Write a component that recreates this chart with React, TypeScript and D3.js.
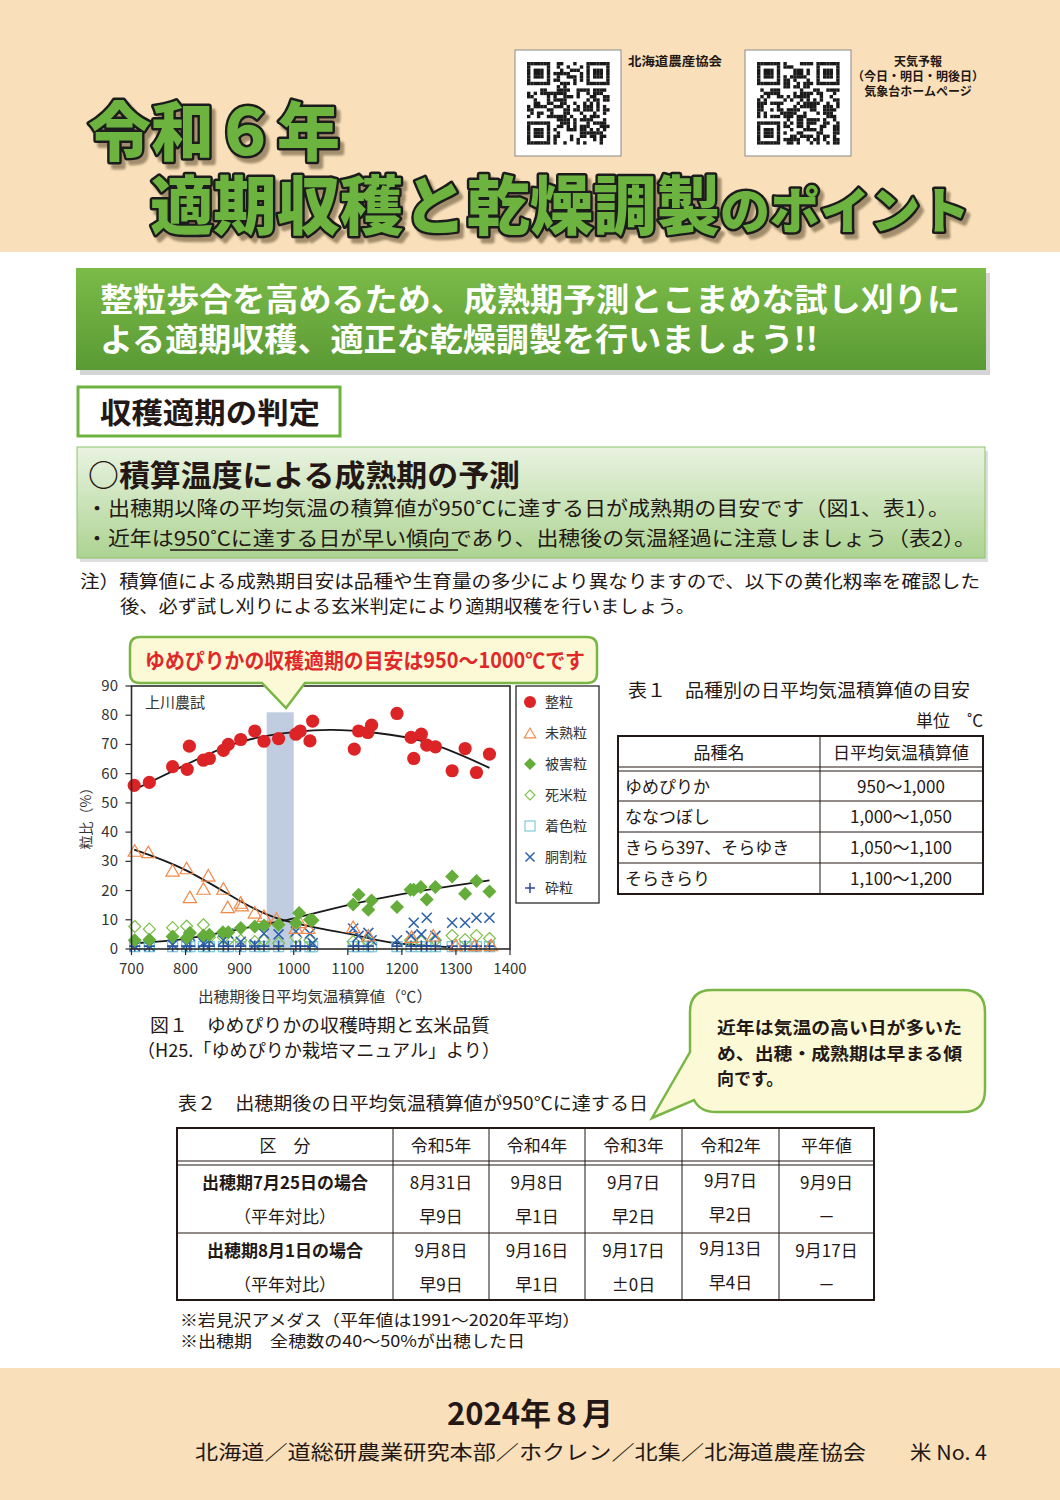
import React from 'react';
import * as d3 from 'd3';

const F = "'Noto Sans CJK JP', 'Noto Sans', sans-serif";

// ---------- chart data ----------
const xTicks = [700, 800, 900, 1000, 1100, 1200, 1300, 1400];
const yTicks = [0, 10, 20, 30, 40, 50, 60, 70, 80, 90];
const legendNames = ['整粒', '未熟粒', '被害粒', '死米粒', '着色粒', '胴割粒', '砕粒'];
const bandRange = [950, 1000];
const bandTop = 81;

const seiryu: [number, number][] = [
  [705, 56], [733, 57], [776, 62.4], [803, 61.5], [807, 69.4], [833, 64.6], [844, 65.2], [870, 68], [879, 70],
  [902, 71.7], [928, 74.6], [945, 71.1], [972, 72], [1004, 73.5], [1012, 74.6], [1030, 71.2], [1035, 78],
  [1112, 68.4], [1120, 74.6], [1137, 74.1], [1144, 76.6], [1191, 80.6], [1217, 72.4], [1222, 65.2], [1236, 73.5],
  [1246, 69.8], [1262, 69.2], [1293, 61], [1317, 68.6], [1338, 60.4], [1362, 66.7],
];
const mijuku: [number, number][] = [
  [706, 33.3], [731, 32.8], [776, 26.5], [802, 27.3], [808, 17.4], [833, 20.3], [842, 24.8], [870, 20.3], [878, 14],
  [902, 15.5], [904, 14.6], [928, 12.1], [945, 11], [968, 10], [1004, 6.9], [1011, 8.9], [1027, 6.9], [1110, 7.2],
  [1138, 4.3], [1218, 3.8], [1258, 4.3], [1300, 1], [1335, 1], [1365, 1],
];
const higai: [number, number][] = [
  [706, 3], [733, 3.2], [776, 4.3], [802, 3.8], [808, 5.5], [833, 4.6], [844, 4.9], [869, 5.7], [879, 5.7],
  [902, 7.2], [928, 7.7], [945, 8], [972, 8.3], [1004, 8.9], [1010, 12.3], [1030, 10], [1035, 9.8], [1110, 15.2],
  [1120, 18.6], [1138, 13.4], [1144, 16.6], [1191, 14.4], [1216, 20.3], [1222, 20.3], [1235, 21.2], [1246, 16.9],
  [1262, 21.2], [1293, 24.8], [1317, 18.9], [1338, 23.3], [1362, 19.7],
];
const shibai: [number, number][] = [
  [706, 7.7], [733, 6.8], [776, 7.3], [802, 7.8], [808, 5.5], [833, 8.3], [844, 4], [870, 4], [879, 3], [902, 3],
  [928, 2.5], [945, 3], [972, 2], [1004, 4], [1030, 3], [1110, 2.5], [1138, 2.5], [1216, 3], [1236, 2.5],
  [1262, 3], [1293, 4.6], [1317, 3.2], [1338, 4.6], [1362, 3.6],
];
const chakushoku: [number, number][] = [
  [706, 0.8], [733, 0.8], [776, 0.8], [802, 0.8], [808, 0.8], [833, 0.8], [844, 0.8], [870, 0.8], [879, 0.8],
  [902, 0.8], [928, 0.8], [945, 0.8], [972, 0.8], [1004, 0.8], [1030, 0.8], [1035, 0.8], [1110, 0.8], [1120, 0.8],
  [1138, 0.8], [1144, 0.8], [1191, 0.8], [1217, 0.8], [1236, 0.8], [1246, 0.8], [1262, 0.8], [1293, 0.8],
  [1317, 0.8], [1338, 0.8], [1362, 0.8],
];
const dowari: [number, number][] = [
  [706, 1], [733, 1], [776, 1.5], [802, 1.5], [808, 4.5], [833, 2], [844, 3], [870, 3], [879, 5.3], [902, 2.5],
  [928, 1.5], [945, 5.3], [972, 5], [1004, 6], [1030, 5.3], [1035, 2], [1110, 7], [1120, 4.5], [1138, 5.5],
  [1144, 3], [1191, 3], [1217, 4.5], [1222, 9], [1236, 5], [1246, 10.7], [1262, 4.5], [1293, 9], [1317, 9],
  [1338, 10.7], [1362, 10.7],
];
const sairyu: [number, number][] = [
  [706, 1], [733, 1], [776, 1], [802, 1], [808, 1], [833, 1], [844, 1], [870, 1], [879, 1], [902, 1], [928, 1],
  [945, 1], [972, 1], [1004, 1], [1012, 1], [1030, 1], [1110, 1], [1120, 1], [1138, 1], [1191, 1], [1217, 1],
  [1236, 1], [1246, 1], [1262, 1], [1293, 1], [1317, 1], [1338, 1], [1362, 1],
];
// trend curves
const trendSeiryu: [number, number][] = [[705, 54.5], [800, 63], [900, 70.8], [1000, 74.2], [1070, 75], [1150, 74], [1250, 70.5], [1362, 62]];
const trendMijuku: [number, number][] = [[705, 34], [800, 27], [900, 16.5], [970, 10.5], [1050, 7], [1120, 4.5], [1190, 2], [1290, 0.6]];
const trendHigai: [number, number][] = [[705, 2], [800, 3.5], [900, 6.8], [1000, 10.5], [1100, 15], [1200, 18.8], [1300, 21.8], [1362, 23.5]];

// ---------- tables ----------
const t1Head = ['品種名', '日平均気温積算値'];
const t1Names = ['ゆめぴりか', 'ななつぼし', 'きらら397、そらゆき', 'そらきらり'];
const t1Values = ['950～1,000', '1,000～1,050', '1,050～1,100', '1,100～1,200'];

const t2Head = ['区　分', '令和5年', '令和4年', '令和3年', '令和2年', '平年値'];
const t2RowLabels = ['出穂期7月25日の場合', '出穂期8月1日の場合'];
const t2Row1 = ['8月31日', '9月8日', '9月7日', '9月7日', '9月9日'];
const t2Row1Diff = ['早9日', '早1日', '早2日', '早2日', '－'];
const t2Row2 = ['9月8日', '9月16日', '9月17日', '9月13日', '9月17日'];
const t2Row2Diff = ['早9日', '早1日', '±0日', '早4日', '－'];

// ---------- helpers ----------
type TP = { x: number; y: number; s: number; w?: number | string; a?: 'start' | 'middle' | 'end'; c?: string; L?: number; children: React.ReactNode; t?: string };
const T = ({ x, y, s, w = 400, a = 'start', c = '#231815', L, children, t }: TP) => (
  <text x={x} y={y} fontSize={s} fontWeight={w} textAnchor={a} fill={c} fontFamily={F}
    textLength={L} lengthAdjust={L ? 'spacingAndGlyphs' : undefined} transform={t}>{children}</text>
);

function qrMatrix(seed: number, n = 25): boolean[][] {
  let s = seed;
  const m: boolean[][] = [];
  for (let i = 0; i < n; i++) {
    m.push([]);
    for (let j = 0; j < n; j++) {
      s = (s * 1103515245 + 12345) & 0x7fffffff;
      m[i].push(((s >> 16) & 3) < 2);
    }
  }
  const finder = (r0: number, c0: number) => {
    for (let i = -1; i < 8; i++) for (let j = -1; j < 8; j++) {
      const r = r0 + i, c = c0 + j;
      if (r < 0 || c < 0 || r >= n || c >= n) continue;
      const ring = Math.max(Math.abs(i - 3), Math.abs(j - 3));
      m[r][c] = i >= 0 && i < 7 && j >= 0 && j < 7 && (ring === 3 || ring <= 1);
    }
  };
  finder(0, 0); finder(0, n - 7); finder(n - 7, 0);
  return m;
}

const QR = ({ x, y, seed }: { x: number; y: number; seed: number }) => {
  const n = 25, cell = 3.3;
  const m = qrMatrix(seed, n);
  const cells: JSX.Element[] = [];
  m.forEach((row, i) => row.forEach((v, j) => {
    if (v) cells.push(<rect key={i + '-' + j} x={x + 12 + j * cell} y={y + 12 + i * cell} width={cell + 0.1} height={cell + 0.1} fill="#1a1a1a" />);
  }));
  return (
    <g>
      <rect x={x} y={y} width={106} height={106} fill="#fff" stroke="#888" strokeWidth={1} />
      {cells}
    </g>
  );
};

const Chart = () => {
  const x = d3.scaleLinear().domain([700, 1400]).range([131.5, 510]);
  const y = d3.scaleLinear().domain([0, 90]).range([949, 686]);
  const line = d3.line<[number, number]>().x(d => x(d[0])).y(d => y(d[1])).curve(d3.curveNatural);
  const tri = (cx: number, cy: number, r = 7) => `M${cx},${cy - r}L${cx + r * 0.95},${cy + r * 0.65}L${cx - r * 0.95},${cy + r * 0.65}Z`;
  const dia = (cx: number, cy: number, r: number) => `M${cx},${cy - r}L${cx + r},${cy}L${cx},${cy + r}L${cx - r},${cy}Z`;
  const xm = (cx: number, cy: number, r = 5) => `M${cx - r},${cy - r}L${cx + r},${cy + r}M${cx - r},${cy + r}L${cx + r},${cy - r}`;
  const pl = (cx: number, cy: number, r = 5.5) => `M${cx - r},${cy}L${cx + r},${cy}M${cx},${cy - r}L${cx},${cy + r}`;
  const red = '#dc2427', orange = '#f0894a', green = '#64ad3a', lgreen = '#7cc04a', lblue = '#80cad8', blue = '#2e62ad', navy = '#2a4c9a';
  const legendY = [702, 733, 764, 795, 826, 857, 888];
  const lx = 530;
  return (
    <g>
      <rect x={x(700)} y={y(90)} width={x(1400) - x(700)} height={y(0) - y(90)} fill="#fff" />
      <rect x={x(bandRange[0])} y={y(bandTop)} width={x(bandRange[1]) - x(bandRange[0])} height={y(0) - y(bandTop)} fill="#c0cde0" />
      {/* trend lines */}
      <path d={line(trendSeiryu) || ''} fill="none" stroke="#1a1a1a" strokeWidth={1.8} />
      <path d={line(trendMijuku) || ''} fill="none" stroke="#1a1a1a" strokeWidth={1.8} />
      <path d={line(trendHigai) || ''} fill="none" stroke="#1a1a1a" strokeWidth={1.8} />
      {/* points */}
      {chakushoku.map((d, i) => <rect key={'s' + i} x={x(d[0]) - 5} y={y(d[1]) - 5} width={10} height={10} fill="none" stroke={lblue} strokeWidth={1.3} />)}
      {shibai.map((d, i) => <path key={'hd' + i} d={dia(x(d[0]), y(d[1]), 6)} fill="none" stroke={lgreen} strokeWidth={1.2} />)}
      {sairyu.map((d, i) => <path key={'p' + i} d={pl(x(d[0]), y(d[1]))} stroke={navy} strokeWidth={1.6} />)}
      {dowari.map((d, i) => <path key={'x' + i} d={xm(x(d[0]), y(d[1]))} stroke={blue} strokeWidth={1.6} />)}
      {mijuku.map((d, i) => <path key={'t' + i} d={tri(x(d[0]), y(d[1]))} fill="none" stroke={orange} strokeWidth={1.2} />)}
      {higai.map((d, i) => <path key={'d' + i} d={dia(x(d[0]), y(d[1]), 7)} fill={green} />)}
      {seiryu.map((d, i) => <circle key={'c' + i} cx={x(d[0])} cy={y(d[1])} r={6.6} fill={red} />)}
      {/* frame */}
      <rect x={x(700)} y={y(90)} width={x(1400) - x(700)} height={y(0) - y(90)} fill="none" stroke="#2b2b2b" strokeWidth={1.6} />
      {yTicks.map(v => (
        <g key={'yt' + v}>
          <line x1={x(700) - 6} x2={x(700)} y1={y(v)} y2={y(v)} stroke="#2b2b2b" strokeWidth={1.2} />
          <T x={118} y={y(v) + 5} s={15} a="end" c="#333">{v}</T>
        </g>
      ))}
      {xTicks.map(v => (
        <g key={'xt' + v}>
          <line x1={x(v)} x2={x(v)} y1={y(0)} y2={y(0) + 6} stroke="#2b2b2b" strokeWidth={1.2} />
          <T x={x(v)} y={974} s={15} a="middle" c="#333">{v}</T>
        </g>
      ))}
      <T x={145} y={708} s={15} c="#333">上川農試</T>
      <T x={0} y={0} s={14} a="middle" c="#333" t="translate(91,815) rotate(-90)">粒比（%）</T>
      <T x={198} y={1002} s={15} c="#333" L={234}>出穂期後日平均気温積算値（℃）</T>
      {/* legend */}
      <rect x={516} y={686} width={83} height={217} fill="#fff" stroke="#2b2b2b" strokeWidth={1.3} />
      <circle cx={lx} cy={legendY[0]} r={6} fill={red} />
      <path d={tri(lx, legendY[1] + 1, 6)} fill="none" stroke={orange} strokeWidth={1.1} />
      <path d={dia(lx, legendY[2], 6)} fill={green} />
      <path d={dia(lx, legendY[3], 5)} fill="none" stroke={lgreen} strokeWidth={1.1} />
      <rect x={lx - 5} y={legendY[4] - 5} width={10} height={10} fill="none" stroke={lblue} strokeWidth={1.2} />
      <path d={xm(lx, legendY[5], 4.5)} stroke={blue} strokeWidth={1.5} />
      <path d={pl(lx, legendY[6], 5)} stroke={navy} strokeWidth={1.5} />
      {legendNames.map((n, i) => <T key={n} x={545} y={legendY[i] + 5} s={14} c="#333">{n}</T>)}
    </g>
  );
};

export default function App() {
  const peach = '#fae0ba';
  const col2 = [177, 393, 489, 585, 682, 779, 874];
  const t1Rows = [771, 801, 832, 863, 894];
  const titleStyle = { fill: '#6cb33f', stroke: '#1c1c1c', strokeWidth: 5, paintOrder: 'stroke', strokeLinejoin: 'round' } as const;
  return (
    <svg width={1060} height={1500} viewBox="0 0 1060 1500" style={{ position: 'absolute', left: 0, top: 0 }} fontFamily={F}>
      <defs>
        <linearGradient id="gBanner" x1="0" y1="0" x2="0" y2="1">
          <stop offset="0" stopColor="#7bbb48" />
          <stop offset="1" stopColor="#5a9a34" />
        </linearGradient>
        <linearGradient id="gBox" x1="0" y1="0" x2="0" y2="1">
          <stop offset="0" stopColor="#e9f3e1" />
          <stop offset="1" stopColor="#acd391" />
        </linearGradient>
        <filter id="titleShadow" x="-5%" y="-20%" width="115%" height="150%">
          <feDropShadow dx={4} dy={5} stdDeviation={1.2} floodColor="#4a3b22" floodOpacity={0.5} />
        </filter>
      </defs>
      <rect x={0} y={0} width={1060} height={1500} fill="#fff" />
      {/* header */}
      <rect x={0} y={0} width={1060} height={252} fill={peach} />
      <QR x={515} y={50} seed={12345} />
      <QR x={745} y={50} seed={98765} />
      <T x={628} y={66} s={12.5} w={700} L={94}>北海道農産協会</T>
      <T x={918} y={66} s={12} w={700} a="middle">天気予報</T>
      <T x={918} y={81} s={12} w={700} a="middle">（今日・明日・明後日）</T>
      <T x={918} y={96} s={12} w={700} a="middle">気象台ホームページ</T>
      {/* title */}
      <g fontFamily={F} fontWeight={900} filter="url(#titleShadow)">
        <text x={88} y={155} fontSize={64} {...titleStyle} textLength={252} lengthAdjust="spacingAndGlyphs">令和６年</text>
        <text x={150} y={229} fontSize={64} {...titleStyle} textLength={570} lengthAdjust="spacingAndGlyphs">適期収穫と乾燥調製</text>
        <text x={720} y={229} fontSize={50} {...titleStyle} textLength={250} lengthAdjust="spacingAndGlyphs">のポイント</text>
      </g>
      {/* green banner */}
      <rect x={80} y={273} width={910} height={102} fill="#b9b9b9" opacity={0.6} />
      <rect x={76} y={268} width={910} height={102} fill="url(#gBanner)" />
      <T x={100} y={311} s={32} w={700} c="#fff" L={860}>整粒歩合を高めるため、成熟期予測とこまめな試し刈りに</T>
      <T x={100} y={351} s={32} w={700} c="#fff" L={718}>よる適期収穫、適正な乾燥調製を行いましょう!!</T>
      {/* section box */}
      <rect x={78} y={387} width={262} height={49} fill="#fff" stroke="#6cb33f" strokeWidth={3} />
      <T x={100} y={424} s={29} w={700} L={220}>収穫適期の判定</T>
      {/* light green box */}
      <rect x={80} y={451} width={908} height={111} fill="#c8c8c8" opacity={0.6} />
      <rect x={77} y={447} width={908} height={111} fill="url(#gBox)" stroke="#8cc36a" strokeWidth={1} />
      <T x={88} y={486} s={30} w={700} L={432}>○積算温度による成熟期の予測</T>
      <T x={86} y={516} s={20} L={864}>・出穂期以降の平均気温の積算値が950˚Cに達する日が成熟期の目安です（図1、表1）。</T>
      <T x={86} y={546} s={20} L={890}>・近年は950˚Cに達する日が早い傾向であり、出穂後の気温経過に注意しましょう（表2）。</T>
      <line x1={170} x2={458} y1={550} y2={550} stroke="#231815" strokeWidth={1.3} />
      {/* note */}
      <T x={80} y={588} s={18} L={900}>注）積算値による成熟期目安は品種や生育量の多少により異なりますので、以下の黄化籾率を確認した</T>
      <T x={120} y={613} s={18} L={575}>後、必ず試し刈りによる玄米判定により適期収穫を行いましょう。</T>
      {/* chart */}
      <Chart />
      {/* callout above chart */}
      <path d="M140,637 H587 Q597,637 597,647 V673 Q597,683 587,683 H305 L286,708 L262,683 H140 Q130,683 130,673 V647 Q130,637 140,637 Z"
        fill="#fbf9d6" stroke="#79b646" strokeWidth={2.5} />
      <T x={145} y={668} s={21} w={700} c="#e0282a" L={440}>ゆめぴりかの収穫適期の目安は950～1000℃です</T>
      {/* figure caption */}
      <T x={150} y={1032} s={18} L={340}>図１　ゆめぴりかの収穫時期と玄米品質</T>
      <T x={137} y={1057} s={18} L={363}>（H25.「ゆめぴりか栽培マニュアル」より）</T>
      {/* table 1 */}
      <T x={628} y={697} s={18} L={342}>表１　品種別の日平均気温積算値の目安</T>
      <T x={983} y={727} s={17} a="end">単位　˚C</T>
      <rect x={618} y={736} width={365} height={158} fill="#fff" stroke="#231815" strokeWidth={2} />
      <line x1={618} x2={983} y1={767} y2={767} stroke="#231815" strokeWidth={1} />
      {t1Rows.slice(0, 4).map(r => <line key={r} x1={618} x2={983} y1={r} y2={r} stroke="#231815" strokeWidth={1} />)}
      <line x1={820} x2={820} y1={736} y2={894} stroke="#231815" strokeWidth={1} />
      <T x={719} y={759} s={17} a="middle">{t1Head[0]}</T>
      <T x={901} y={759} s={17} a="middle">{t1Head[1]}</T>
      {t1Names.map((n, i) => <T key={n} x={625} y={t1Rows[i] + 22} s={17}>{n}</T>)}
      {t1Values.map((v, i) => <T key={v} x={901} y={t1Rows[i] + 22} s={17} a="middle">{v}</T>)}
      {/* speech bubble */}
      <path d="M712,990 H963 Q985,990 985,1012 V1090 Q985,1112 963,1112 H716 Q700,1112 694,1100 L652,1118 L690,1052 V1012 Q690,990 712,990 Z"
        fill="#fbf9d6" stroke="#79b646" strokeWidth={2.5} />
      <T x={717} y={1034} s={17} w={700} L={245}>近年は気温の高い日が多いた</T>
      <T x={717} y={1060} s={17} w={700} L={245}>め、出穂・成熟期は早まる傾</T>
      <T x={717} y={1085} s={17} w={700}>向です。</T>
      {/* table 2 */}
      <T x={178} y={1110} s={18} L={470}>表２　出穂期後の日平均気温積算値が950℃に達する日</T>
      <rect x={177} y={1128} width={697} height={172} fill="#fff" stroke="#231815" strokeWidth={2} />
      <line x1={177} x2={874} y1={1161} y2={1161} stroke="#231815" strokeWidth={1} />
      <line x1={177} x2={874} y1={1165} y2={1165} stroke="#231815" strokeWidth={1} />
      <line x1={177} x2={874} y1={1233} y2={1233} stroke="#231815" strokeWidth={1} />
      {col2.slice(1, 6).map(c => <line key={c} x1={c} x2={c} y1={1128} y2={1300} stroke="#231815" strokeWidth={1} />)}
      {t2Head.map((h, i) => <T key={h} x={(col2[i] + col2[i + 1]) / 2} y={1152} s={17} a="middle">{h}</T>)}
      <T x={285} y={1189} s={17} w={700} a="middle">{t2RowLabels[0]}</T>
      <T x={285} y={1223} s={17} a="middle">（平年対比）</T>
      <T x={285} y={1257} s={17} w={700} a="middle">{t2RowLabels[1]}</T>
      <T x={285} y={1291} s={17} a="middle">（平年対比）</T>
      {t2Row1.map((v, i) => <T key={'a' + i} x={(col2[i + 1] + col2[i + 2]) / 2} y={i === 3 ? 1187 : 1189} s={17} a="middle">{v}</T>)}
      {t2Row1Diff.map((v, i) => <T key={'b' + i} x={(col2[i + 1] + col2[i + 2]) / 2} y={i === 3 ? 1221 : 1223} s={17} a="middle">{v}</T>)}
      {t2Row2.map((v, i) => <T key={'c' + i} x={(col2[i + 1] + col2[i + 2]) / 2} y={i === 3 ? 1255 : 1257} s={17} a="middle">{v}</T>)}
      {t2Row2Diff.map((v, i) => <T key={'d' + i} x={(col2[i + 1] + col2[i + 2]) / 2} y={i === 3 ? 1289 : 1291} s={17} a="middle">{v}</T>)}
      <T x={180} y={1326} s={16} L={400}>※岩見沢アメダス（平年値は1991～2020年平均）</T>
      <T x={180} y={1347} s={16} L={345}>※出穂期　全穂数の40～50%が出穂した日</T>
      {/* footer */}
      <rect x={0} y={1368} width={1060} height={132} fill={peach} />
      <T x={530} y={1425} s={31} w={700} a="middle">2024年８月</T>
      <T x={195} y={1460} s={20} L={671}>北海道／道総研農業研究本部／ホクレン／北集／北海道農産協会</T>
      <T x={910} y={1460} s={20} L={77}>米 No. 4</T>
    </svg>
  );
}
